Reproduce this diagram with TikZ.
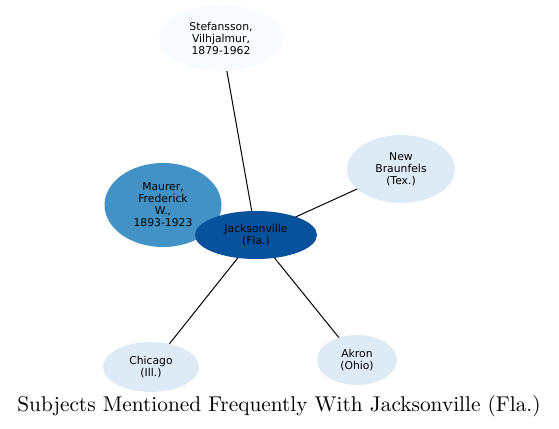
\documentclass[tikz,border=0pt]{standalone}
\usepackage{fontspec}
\newfontfamily\nodefont{DejaVu Sans}
\newfontfamily\ttlfont{lmroman10-regular.otf}
\usepackage{tikz}
\usetikzlibrary{positioning,backgrounds,shapes.geometric}
\definecolor{blueA}{HTML}{F7FBFF}
\definecolor{blueB}{HTML}{DEEBF7}
\definecolor{blueC}{HTML}{4292C6}
\definecolor{blueD}{HTML}{08519C}
\tikzset{
  subj/.style={ellipse,inner sep=0pt,align=center,
    font=\nodefont\fontsize{8.1}{9}\selectfont},
  link/.style={line width=0.75pt,black},
  ttl/.style={font=\ttlfont\fontsize{16}{18}\selectfont},
}

\begin{document}
\begin{tikzpicture}[x=0.75pt,y=-0.75pt]
  \useasboundingbox (0,0) rectangle (559,428);
  % subject nodes (sizes in px)
  \node[subj,fill=blueC,minimum width=0.75*117,minimum height=0.75*84] (maurer) at (163,205)
    {Maurer,\\Frederick\\W.,\\1893-1923};
  \node[subj,fill=blueD,minimum width=0.75*122,minimum height=0.75*48] (jack) at (256,235)
    {Jacksonville\\(Fla.)};
  \node[subj,fill=blueA,minimum width=0.75*124,minimum height=0.75*66] (stef) at (221,38)
    {Stefansson,\\Vilhjalmur,\\1879-1962};
  \node[subj,fill=blueB,minimum width=0.75*108,minimum height=0.75*68] (braun) at (401,169)
    {New\\Braunfels\\(Tex.)};
  \node[subj,fill=blueB,minimum width=0.75*96,minimum height=0.75*50] (chic) at (151,367)
    {Chicago\\(Ill.)};
  \node[subj,fill=blueB,minimum width=0.75*80,minimum height=0.75*50] (akron) at (357,360)
    {Akron\\(Ohio)};
  % links, behind the nodes
  \begin{scope}[on background layer]
    \foreach \n in {maurer,stef,braun,chic,akron}
      \draw[link] (jack.center) -- (\n.center);
  \end{scope}
  \node[ttl] (title) at (279,406) {Subjects Mentioned Frequently With Jacksonville (Fla.)};
\end{tikzpicture}
\end{document}
